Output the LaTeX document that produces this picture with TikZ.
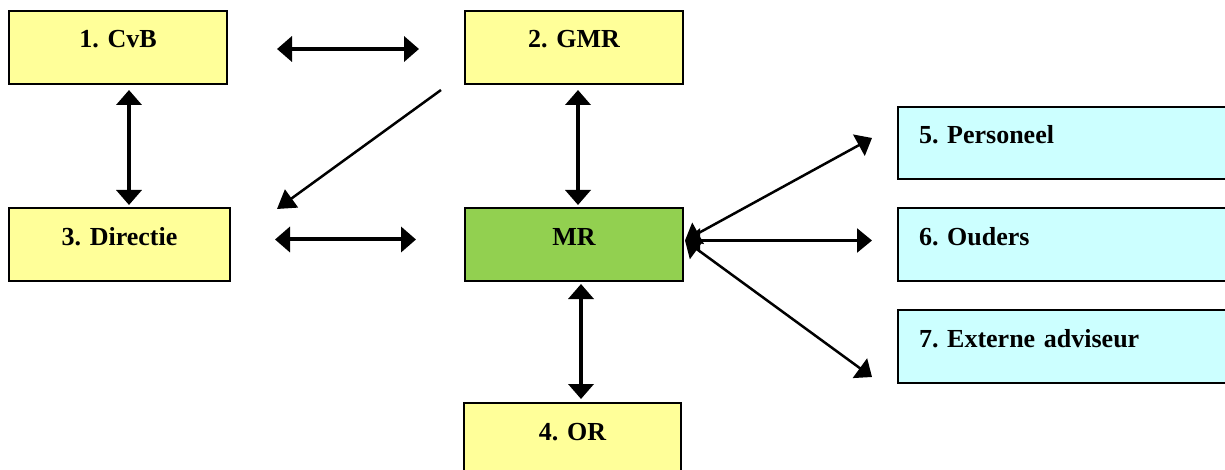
\documentclass[tikz,border=0pt]{standalone}
\usepackage{fontspec}
\setmainfont{Liberation Serif}
\usetikzlibrary{arrows.meta}
\definecolor{boxyellow}{HTML}{FFFF99}
\definecolor{boxgreen}{HTML}{92D050}
\definecolor{boxcyan}{HTML}{CCFFFF}
\tikzset{
  box/.style={draw=black, line width=2pt, anchor=north west, inner sep=0pt,
    text height=37pt, text depth=36pt, align=center,
    font=\fontsize{26}{30}\selectfont\bfseries\frenchspacing},
  ybox/.style={box, fill=boxyellow},
  gbox/.style={box, fill=boxgreen},
  cbox/.style={box, fill=boxcyan, align=left, inner xsep=21pt},
  thickarr/.style={line width=4pt, {Triangle[length=15pt,width=25pt]}-{Triangle[length=15pt,width=25pt]}},
  thinarr/.style={line width=2.5pt, {Triangle[length=15pt,width=24pt]}-{Triangle[length=15pt,width=24pt]}},
  onearr/.style={line width=2.5pt, -{Triangle[length=18pt,width=22pt]}},
}
\begin{document}
\begin{tikzpicture}[x=1pt,y=-1pt]
\useasboundingbox (0,0) rectangle (1225,470);
\clip (0,0) rectangle (1225,470);
\node[ybox, text width=218pt] (b1) at (8,10) {1. CvB};
\node[ybox, text width=218pt] (b2) at (464,10) {2. GMR};
\node[ybox, text width=221pt] (b3) at (8,207) {3. Directie};
\node[gbox, text width=218pt] (mr) at (464,207) {MR};
\node[ybox, text width=217pt, text depth=50pt] (b4) at (463,402) {4. OR};
\node[cbox, text width=320pt, text depth=35pt] (b5) at (897,106) {5. Personeel};
\node[cbox, text width=320pt] (b6) at (897,207) {6. Ouders};
\node[cbox, text width=320pt] (b7) at (897,309) {7. Externe adviseur};

\draw[thickarr] ([shift={(49,1.5)}]b1.east) coordinate (h1) -- ([xshift=-45pt]b2.west |- h1);
\draw[thickarr] ([shift={(11,5)}]b1.south) coordinate (v1) -- ([yshift=2pt]v1 |- b3.north);
\draw[thickarr] ([shift={(4,5)}]b2.south) coordinate (v2) -- ([yshift=2pt]v2 |- mr.north);
\draw[thickarr] ([shift={(44,-5)}]b3.east) coordinate (h2) -- ([xshift=-48pt]mr.west |- h2);
\draw[thickarr] ([shift={(7,2)}]mr.south) coordinate (v3) -- ([yshift=3pt]v3 |- b4.north);
\draw[onearr] ([shift={(-23,5)}]b2.south west) -- ([shift={(46,2)}]b3.north east);

\draw[thinarr] ([shift={(1,-4)}]mr.east) -- ([shift={(-25,-5)}]b5.west);
\draw[thinarr] ([shift={(1,-4)}]mr.east) coordinate (h3) -- ([xshift=-25pt]b6.west |- h3);
\draw[thinarr] ([shift={(1,-4)}]mr.east) -- ([shift={(-25,30.5)}]b7.west);
\end{tikzpicture}
\end{document}
